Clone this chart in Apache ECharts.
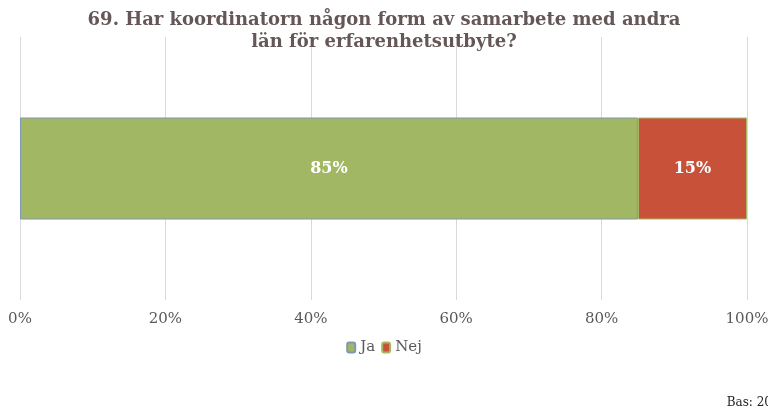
<!DOCTYPE html>
<html>
<head>
<meta charset="utf-8">
<script src="https://cdn.jsdelivr.net/npm/echarts@6/dist/echarts.min.js"></script>
<style>
  html, body { margin: 0; padding: 0; background: #fff; }
  #main { width: 768px; height: 412px; }
</style>
</head>
<body>
<div id="main"></div>
<script>
// data
var categories = ['69'];
var jaValues = [85];
var nejValues = [15];
var tickLabels = ['0%', '20%', '40%', '60%', '80%', '100%'];

var serif = 'Georgia, "DejaVu Serif", "Liberation Serif", serif';

var chart = echarts.init(document.getElementById('main'));
chart.setOption({
    animation: false,
    title: {
        text: '69. Har koordinatorn någon form av samarbete med andra\nlän för erfarenhetsutbyte?',
        left: 'center',
        top: 4,
        textStyle: {
            fontFamily: serif,
            fontSize: 18,
            fontWeight: 'bold',
            color: '#655757',
            lineHeight: 22,
            align: 'center'
        }
    },
    graphic: [{
        type: 'text',
        right: -4,
        bottom: 3,
        style: { text: 'Bas: 20', font: '12px ' + serif, fill: '#222' }
    }],
    legend: {
        bottom: 52,
        left: 'center',
        itemWidth: 8,
        itemHeight: 10,
        itemGap: 6,
        textStyle: { fontFamily: serif, fontSize: 15, color: '#595959' },
        data: ['Ja', 'Nej']
    },
    grid: { left: 20, right: 21, top: 37, bottom: 112, outerBoundsMode: 'none', containLabel: false },
    xAxis: {
        type: 'value',
        min: 0, max: 100, interval: 20,
        axisLine: { show: false },
        axisTick: { show: false },
        splitLine: { lineStyle: { color: '#d9d9d9', width: 1 } },
        axisLabel: {
            margin: 12,
            fontFamily: serif, fontSize: 15, color: '#595959',
            formatter: function (v) { return tickLabels[v / 20]; }
        }
    },
    yAxis: {
        type: 'category',
        data: categories,
        axisLine: { show: false },
        axisTick: { show: false },
        axisLabel: { show: false }
    },
    series: [{
        name: 'Ja',
        type: 'bar',
        stack: 'a',
        barWidth: 102,
        data: jaValues,
        itemStyle: { color: '#A2B763', borderColor: '#7F97B0', borderWidth: 1 },
        label: {
            show: true, position: 'inside', formatter: '{c}%',
            fontFamily: serif, fontSize: 16, fontWeight: 'bold', color: '#fff'
        }
    }, {
        name: 'Nej',
        type: 'bar',
        stack: 'a',
        barWidth: 102,
        data: nejValues,
        itemStyle: { color: '#C8513A', borderColor: '#A9B865', borderWidth: 1 },
        label: {
            show: true, position: 'inside', formatter: '{c}%',
            fontFamily: serif, fontSize: 16, fontWeight: 'bold', color: '#fff'
        }
    }]
});
</script>
</body>
</html>
